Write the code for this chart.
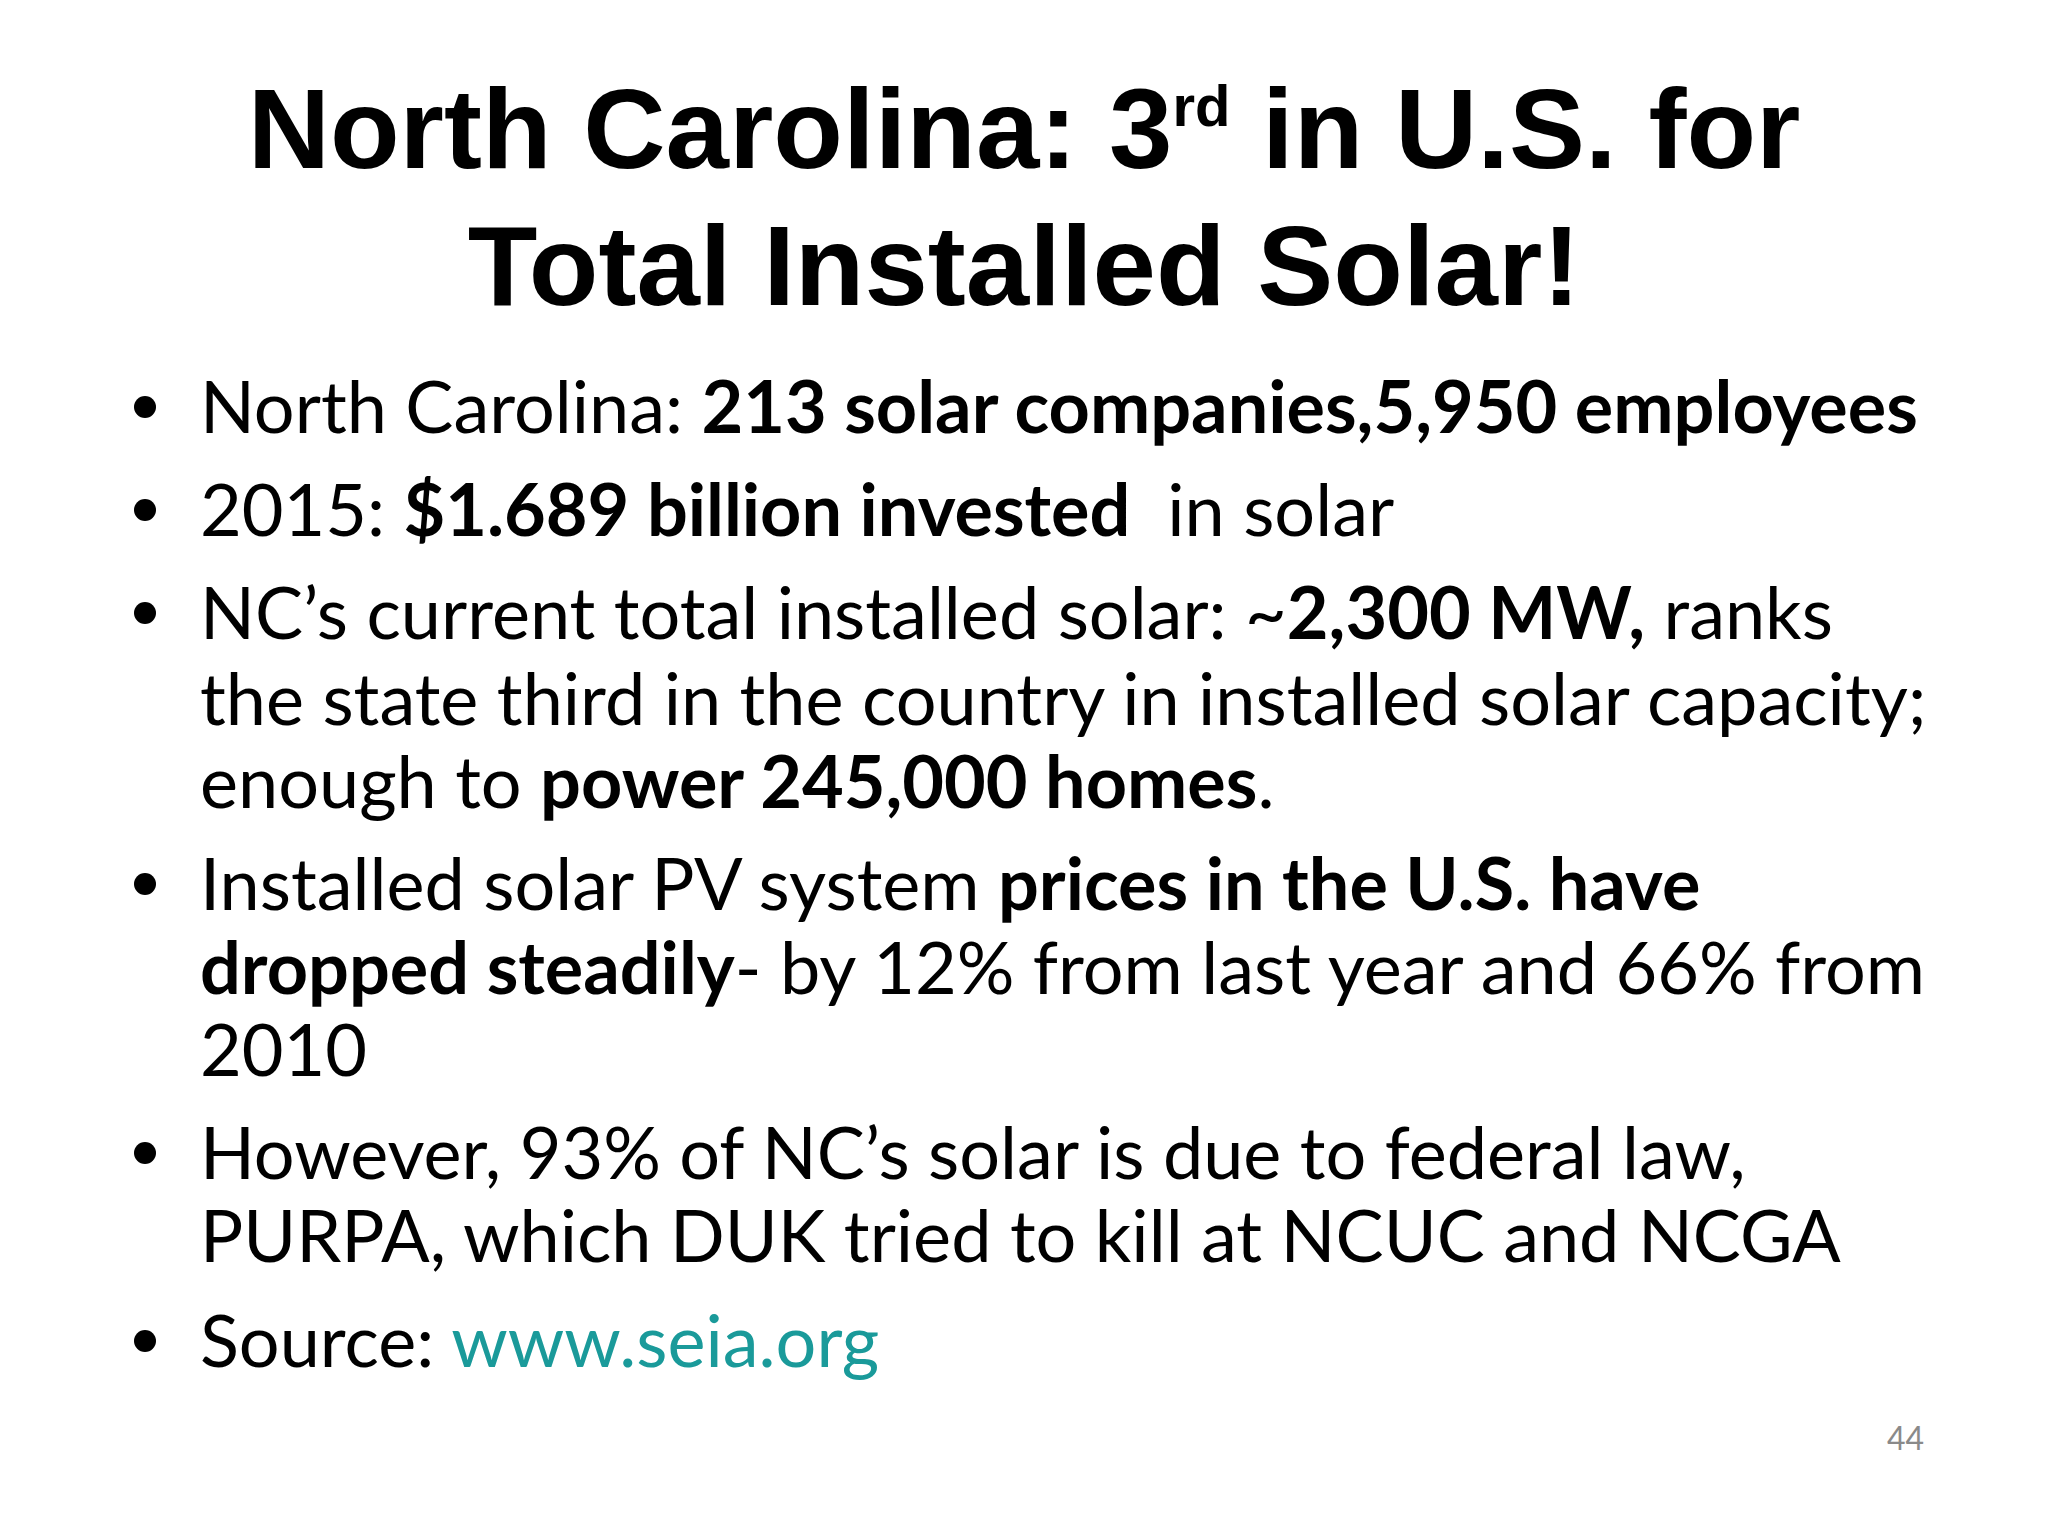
<!DOCTYPE html>
<html><head><meta charset="utf-8">
<script src="https://cdn.jsdelivr.net/npm/chart.js@4"></script>
<style>
html,body{margin:0;padding:0;background:#fff;width:2048px;height:1536px;overflow:hidden}
#t{position:absolute;left:0;width:2048px;text-align:center;font-family:"Liberation Sans",Arial,sans-serif;font-weight:bold;font-size:114px;color:#000;line-height:118px;top:70px}
sup{font-size:58px;vertical-align:0;position:relative;top:-42px}
.l{position:absolute;left:200px;font-family:Lato,"Open Sans",sans-serif;font-size:72px;color:#000;white-space:nowrap;line-height:80px}
.b{position:absolute;left:134px;width:22px;height:22px;border-radius:50%;background:#000}
a{color:#1a9a9a;text-decoration:none}
#pg{position:absolute;left:1887px;top:1418px;font-family:Lato,sans-serif;font-size:32px;color:#8a8a8a}
#c{position:absolute;left:0;top:0;width:1px;height:1px}
</style></head><body>
<canvas id="c"></canvas>
<div id="t">North Carolina: 3<sup>rd</sup> in U.S. for<br>Total Installed Solar!</div>
<div id="body"></div>
<div id="pg">44</div>
<script>
const bulletLines = [
 [418,true,'North Carolina: <b>213 solar companies,5,950 employees</b>'],
 [521,true,'2015: <b>$1.689 billion invested</b>&nbsp; in solar'],
 [624,true,'NC’s current total installed solar: ~<b>2,300 MW,</b> ranks'],
 [710,false,'the state third in the country in installed solar capacity;'],
 [793,false,'enough to <b>power 245,000 homes</b>.'],
 [895,true,'Installed solar PV system <b>prices in the U.S. have</b>'],
 [979,false,'<b>dropped steadily</b>- by 12% from last year and 66% from'],
 [1061,false,'2010'],
 [1164,true,'However, 93% of NC’s solar is due to federal law,'],
 [1247,false,'PURPA, which DUK tried to kill at NCUC and NCGA'],
 [1352,true,'Source: <a>www.seia.org</a>']
];
const body=document.getElementById('body');
for(const [y,bul,html] of bulletLines){
  const d=document.createElement('div');d.className='l';d.style.top=(y-53)+'px';d.innerHTML=html;body.appendChild(d);
  if(bul){const b=document.createElement('div');b.className='b';b.style.top=(y-22)+'px';body.appendChild(b);}
}
</script>
</body></html>
